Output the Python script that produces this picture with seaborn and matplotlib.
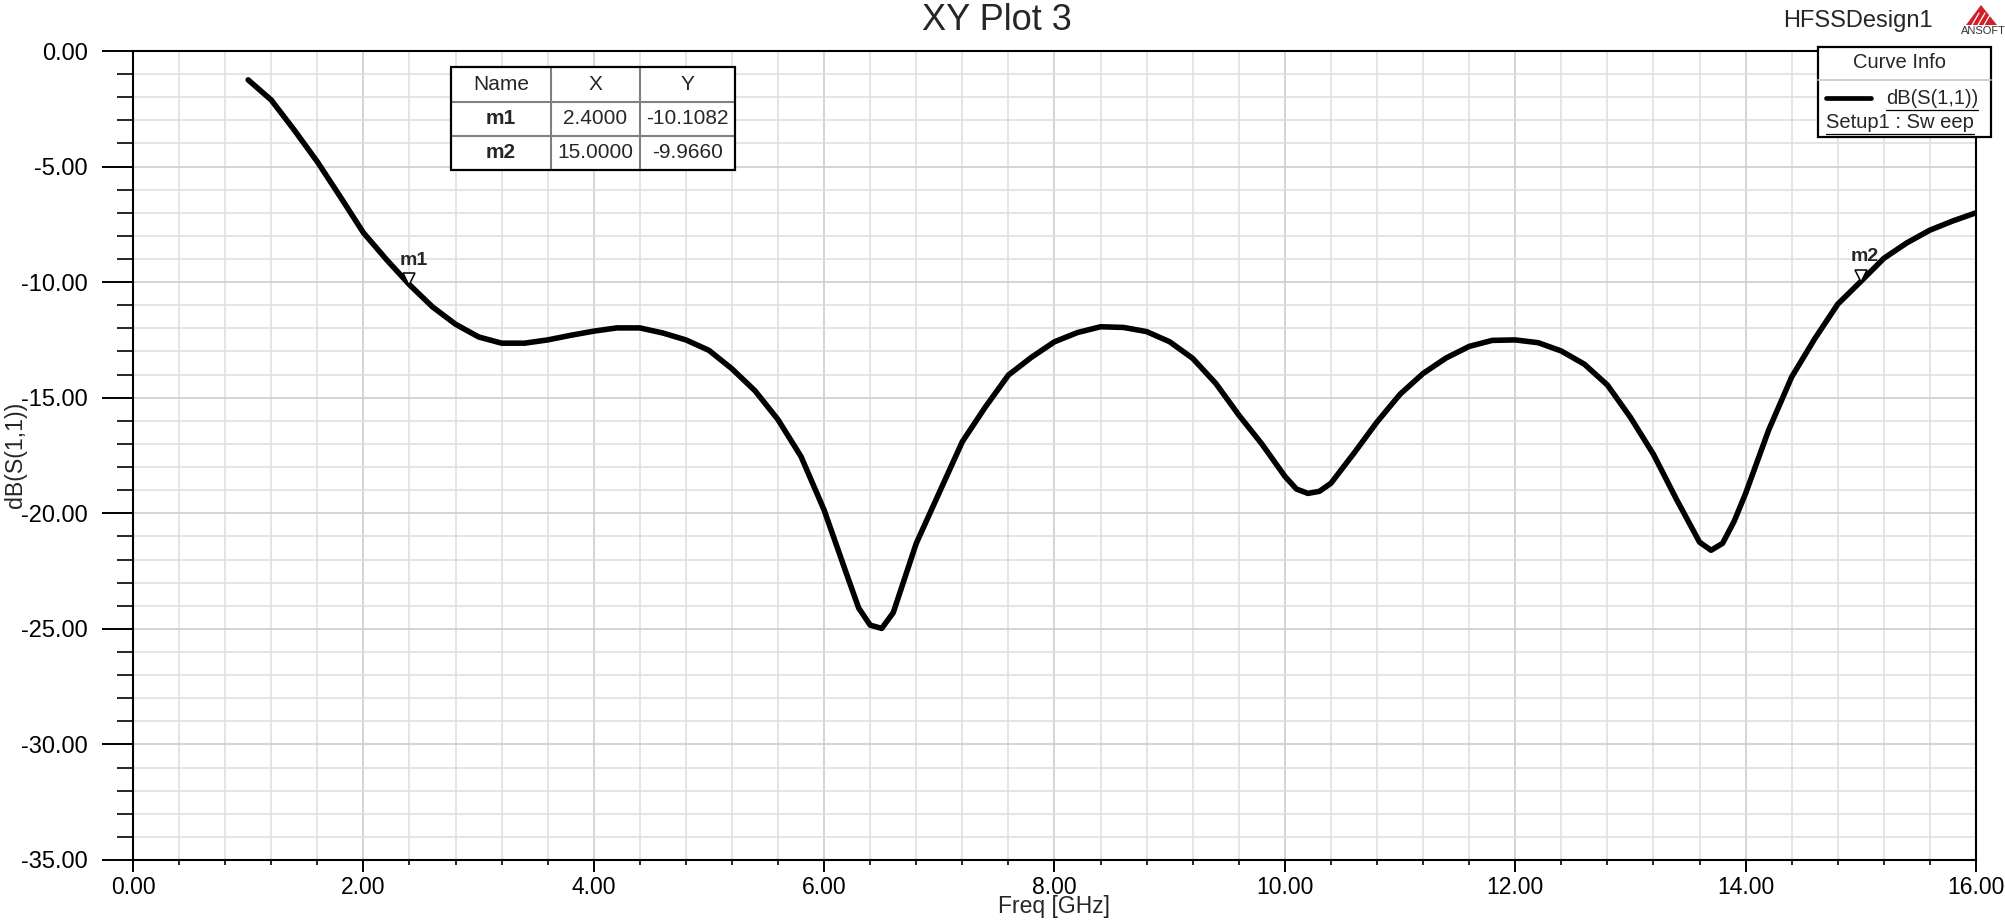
import numpy as np
import pandas as pd
import seaborn as sns
import matplotlib.pyplot as plt
from matplotlib.lines import Line2D
from matplotlib.patches import Rectangle, Polygon
from matplotlib import transforms

freq = [1.0, 1.2, 1.4, 1.6, 1.8, 2.0, 2.2, 2.4, 2.6, 2.8, 3.0, 3.2, 3.4, 3.6, 3.8,
        4.0, 4.2, 4.4, 4.6, 4.8, 5.0, 5.2, 5.4, 5.6, 5.8, 6.0, 6.2, 6.3, 6.4, 6.5,
        6.6, 6.7, 6.8, 7.0, 7.2, 7.4, 7.6, 7.8, 8.0, 8.2, 8.4, 8.6, 8.8, 9.0, 9.2,
        9.4, 9.6, 9.8, 10.0, 10.1, 10.2, 10.3, 10.4, 10.6, 10.8, 11.0, 11.2, 11.4,
        11.6, 11.8, 12.0, 12.2, 12.4, 12.6, 12.8, 13.0, 13.2, 13.4, 13.6, 13.7,
        13.8, 13.9, 14.0, 14.2, 14.4, 14.6, 14.8, 15.0, 15.2, 15.4, 15.6, 15.8, 16.0]
s11_db = [-1.25, -2.12, -3.42, -4.79, -6.31, -7.86, -9.02, -10.11, -11.07, -11.82,
          -12.37, -12.64, -12.64, -12.50, -12.30, -12.12, -11.98, -11.98, -12.20,
          -12.50, -12.95, -13.75, -14.70, -15.95, -17.55, -19.86, -22.70, -24.10,
          -24.84, -24.98, -24.30, -22.80, -21.30, -19.10, -16.90, -15.40, -14.02,
          -13.25, -12.58, -12.18, -11.93, -11.96, -12.14, -12.58, -13.30, -14.38,
          -15.75, -17.00, -18.40, -18.95, -19.14, -19.05, -18.70, -17.40, -16.05,
          -14.85, -13.95, -13.28, -12.78, -12.52, -12.50, -12.62, -12.98, -13.55,
          -14.45, -15.85, -17.45, -19.40, -21.25, -21.60, -21.30, -20.35, -19.14,
          -16.40, -14.10, -12.45, -10.95, -9.97, -8.97, -8.30, -7.75, -7.35, -7.00]

marker_names = ['m1', 'm2']
marker_x = [2.4, 15.0]
marker_y = [-10.1082, -9.9660]

df = pd.DataFrame({'freq': freq, 'db': s11_db})

sns.set_theme(style='white')
plt.rcParams['font.family'] = ['Liberation Sans', 'DejaVu Sans']

W, H = 2006, 924
fig = plt.figure(figsize=(W / 100, H / 100), dpi=100)

def fx(x):
    return x / W

def fy(y):
    return 1 - y / H

ax = fig.add_axes([fx(133), fy(860), fx(1976) - fx(133), fy(51) - fy(860)])

sns.lineplot(data=df, x='freq', y='db', color='black', linewidth=4.0, ax=ax, zorder=3)

ax.set_xlim(0, 16)
ax.set_ylim(-35, 0)
ax.set_xticks(np.arange(0, 16.01, 2))
ax.set_xticks(np.arange(0, 16.01, 0.4), minor=True)
ax.set_yticks(np.arange(-35, 0.01, 5))
ax.set_yticks(np.arange(-35, 0.01, 1), minor=True)
ax.xaxis.set_major_formatter(plt.FormatStrFormatter('%.2f'))
ax.yaxis.set_major_formatter(plt.FormatStrFormatter('%.2f'))
ax.set_xlabel('')
ax.set_ylabel('')

ax.grid(which='major', color='#cdcdcd', linewidth=1.2)
ax.grid(which='minor', color='#dedede', linewidth=1.1)
ax.set_axisbelow(True)

for s in ax.spines.values():
    s.set_color('black')
    s.set_linewidth(1.5)

ax.tick_params(axis='y', which='major', direction='out', length=22.5, width=1.4,
               pad=10, labelsize=17, colors='black', left=True)
ax.tick_params(axis='y', which='minor', direction='out', length=11.5, width=1.4, left=True)
ax.tick_params(axis='x', which='major', direction='out', length=8.6, width=1.4,
               pad=3, labelsize=16.5, colors='black', bottom=True)
ax.tick_params(axis='x', which='minor', direction='out', length=3.8, width=1.4, bottom=True)

# marcadores m1 / m2
for name, mx, my in zip(marker_names, marker_x, marker_y):
    tr = transforms.offset_copy(ax.transData, fig=fig, x=0, y=4.2, units='points')
    ax.plot([mx], [my], marker='v', ms=8, mfc='white', mec='black', mew=1.1,
            transform=tr, zorder=4, clip_on=False)
    ax.annotate(name, (mx, my), xytext=(-7, 14.5), textcoords='offset points',
                fontsize=14, fontweight='bold', ha='left', va='baseline', zorder=5)

# titulos
fig.text(fx(997), fy(20), 'XY Plot 3', fontsize=26, ha='center', va='center')
fig.text(fx(1858), fy(21), 'HFSSDesign1', fontsize=17, ha='center', va='center')
fig.text(fx(1054), fy(907), 'Freq [GHz]', fontsize=16.5, ha='center', va='center')
fig.text(fx(16), fy(455), 'dB(S(1,1))', fontsize=16.7, ha='center', va='center', rotation=90)

# logo
fig.add_artist(Polygon([(fx(1966), fy(25)), (fx(1997), fy(25)), (fx(1981), fy(5))],
                       closed=True, transform=fig.transFigure, fc='#d0202a', ec='none'))
for k in range(3):
    x0 = 1972 + 6 * k
    fig.add_artist(Line2D([fx(x0), fx(x0 + 7)], [fy(25), fy(13)], transform=fig.transFigure,
                          color='white', lw=0.9))
fig.text(fx(1983), fy(31), 'ANSOFT', fontsize=8, ha='center', va='center', color='#333333')

# tabela dos marcadores
col_edges = [451, 551, 640, 735]
row_edges = [67, 102, 136, 170]
fig.add_artist(Rectangle((fx(451), fy(170)), fx(735) - fx(451), fy(67) - fy(170),
                         transform=fig.transFigure, fc='white', ec='none', zorder=5))
for c in col_edges[1:-1]:
    fig.add_artist(Line2D([fx(c), fx(c)], [fy(67), fy(170)], transform=fig.transFigure,
                          color='#808080', lw=1.5, zorder=6))
for r in row_edges[1:-1]:
    fig.add_artist(Line2D([fx(451), fx(735)], [fy(r), fy(r)], transform=fig.transFigure,
                          color='#808080', lw=1.5, zorder=6))
fig.add_artist(Rectangle((fx(451), fy(170)), fx(735) - fx(451), fy(67) - fy(170),
                         transform=fig.transFigure, fc='none', ec='black', lw=1.6, zorder=7))

rows = [['Name', 'X', 'Y']]
for name, mx, my in zip(marker_names, marker_x, marker_y):
    rows.append([name, '%.4f' % mx, '%.4f' % my])
for i, row in enumerate(rows):
    yc = (row_edges[i] + row_edges[i + 1]) / 2
    for j, txt in enumerate(row):
        xc = (col_edges[j] + col_edges[j + 1]) / 2
        fw = 'bold' if (i > 0 and j == 0) else 'normal'
        fig.text(fx(xc), fy(yc), txt, fontsize=15, fontweight=fw,
                 ha='center', va='center', zorder=8)

# caixa Curve Info
fig.add_artist(Rectangle((fx(1818), fy(137)), fx(1991) - fx(1818), fy(47) - fy(137),
                         transform=fig.transFigure, fc='white', ec='black', lw=1.6, zorder=5))
fig.add_artist(Line2D([fx(1818), fx(1991)], [fy(80), fy(80)], transform=fig.transFigure,
                      color='#c8c8c8', lw=1.2, zorder=6))
fig.text(fx(1900), fy(63), 'Curve Info', fontsize=14.5, ha='center', va='center', zorder=8)
fig.add_artist(Line2D([fx(1826), fx(1871)], [fy(98), fy(98)], transform=fig.transFigure,
                      color='black', lw=3.4, zorder=8))
t1 = fig.text(fx(1886), fy(98), 'dB(S(1,1))', fontsize=14.5, ha='left', va='center', zorder=8)
t2 = fig.text(fx(1826), fy(122), 'Setup1 : Sw eep', fontsize=14.5, ha='left', va='center', zorder=8)

fig.canvas.draw()
for t, yu in [(t1, 110), (t2, 134)]:
    bb = t.get_window_extent()
    fig.add_artist(Line2D([bb.x0 / W, bb.x1 / W], [fy(yu), fy(yu)], transform=fig.transFigure,
                          color='black', lw=0.9, zorder=8))

fig.savefig('out.png', dpi=100)
